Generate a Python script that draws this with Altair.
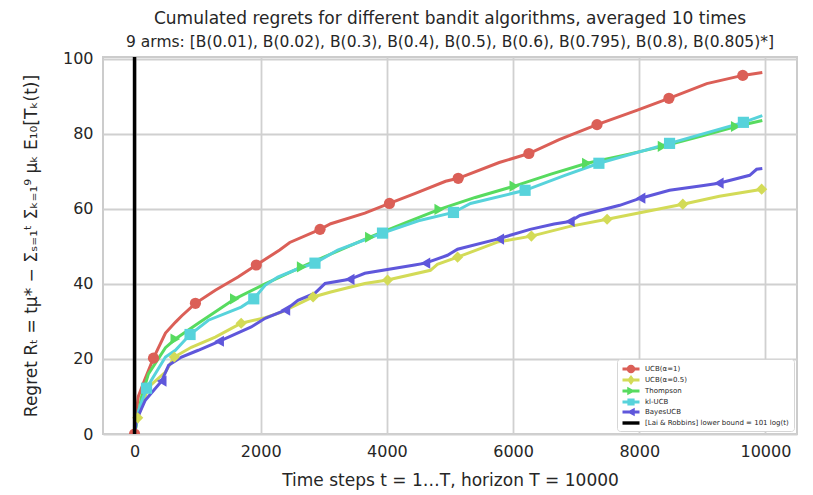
import altair as alt
import pandas as pd

# ---------------- data ----------------
names = ["UCB(α=1)", "UCB(α=0.5)", "Thompson", "kl-UCB", "BayesUCB",
         "[Lai & Robbins] lower bound = 101 log(t)"]
colors = ["#db5f57", "#d3db57", "#57db5f", "#57d3db", "#5f57db", "#000000"]

ucb1_t = [0, 20, 60, 150, 300, 490, 650, 750, 965, 1280, 1640, 1930, 2300, 2460, 2940, 3110,
          3650, 4040, 4440, 4930, 5130, 5780, 6250, 6730, 7330, 7960, 8470, 9070, 9640, 9950]
ucb1_y = [0, 5, 10, 14, 20.2, 26.9, 29.8, 31.5, 34.8, 38.3, 41.8, 45, 49, 51, 54.5, 56,
          58.8, 61.4, 64, 67.3, 68.1, 72.3, 74.7, 78.4, 82.4, 86.2, 89.4, 93.3, 95.5, 96.3]
ucb1_mt = [0, 300, 965, 1930, 2940, 4040, 5130, 6250, 7330, 8470, 9640]
ucb1_my = [0, 20.2, 34.8, 45, 54.5, 61.4, 68.1, 74.7, 82.4, 89.4, 95.5]

ucb05_t = [0, 50, 220, 490, 630, 900, 1280, 1690, 2070, 2320, 2830, 3110, 3650, 4010, 4690,
           4800, 5120, 5750, 6290, 6900, 7490, 8070, 8690, 9270, 9950]
ucb05_y = [0, 4.3, 12.5, 16.5, 20.5, 23.1, 25.8, 29.5, 31, 32.4, 36.5, 37.8, 40.1, 41, 43.6,
           45.2, 47.1, 51.1, 52.7, 55.3, 57.2, 59.1, 61.2, 63.3, 65.2]
ucb05_mt = [50, 630, 1690, 2830, 4010, 5120, 6290, 7490, 8690, 9940]
ucb05_my = [4.3, 20.5, 29.5, 36.5, 41, 47.1, 52.7, 57.2, 61.2, 65.2]

ts_t = [0, 110, 220, 490, 647, 1010, 1590, 2070, 2650, 3200, 3730, 4300, 4830, 5400, 6020,
        6600, 7170, 7800, 8370, 9000, 9530, 9950]
ts_y = [0, 9.8, 16, 23, 25.3, 29.5, 36, 40, 44.5, 48.6, 52.4, 56.3, 59.8, 63, 66,
        69.2, 72.1, 74.4, 76.6, 79.4, 81.9, 83.5]
ts_mt = [647, 1590, 2650, 3730, 4830, 6020, 7170, 8370, 9530]
ts_my = [25.3, 36, 44.5, 52.4, 59.8, 66, 72.1, 76.6, 81.9]

kl_t = [0, 60, 190, 490, 647, 880, 1170, 1690, 1890, 2070, 2270, 2590, 2860, 3220, 3930,
        4500, 5055, 5325, 6190, 6810, 7360, 8480, 9650, 9950]
kl_y = [0, 6, 12.2, 20.5, 22.3, 26.5, 30.3, 33.8, 36, 39.6, 41.8, 44, 45.5, 49, 53.5,
        56.8, 59, 61.4, 64.9, 68.8, 72.1, 77.4, 83, 84.8]
kl_mt = [190, 880, 1890, 2860, 3930, 5055, 6190, 7360, 8480, 9650]
kl_my = [12.2, 26.5, 36, 45.5, 53.5, 59, 64.9, 72.1, 77.4, 83]

bayes_t = [0, 30, 170, 430, 540, 745, 1010, 1340, 1850, 2070, 2390, 2590, 2860, 3020, 3410,
           3650, 4440, 4610, 4960, 5120, 5750, 6270, 6650, 6900, 7060, 7690, 8020, 8480,
           9020, 9260, 9750, 9860, 9950]
bayes_y = [0, 3.7, 9, 14.1, 18.3, 20.5, 22.3, 24.7, 28.5, 30.8, 33, 35.6, 37.5, 40.1, 41.2,
           42.8, 45, 45.5, 47.6, 49.2, 51.9, 54.5, 55.9, 56.6, 58.2, 60.9, 62.8, 64.9,
           66.2, 66.8, 68.9, 70.5, 70.7]
bayes_mt = [430, 1340, 2390, 3410, 4610, 5780, 6900, 8020, 9260]
bayes_my = [14.1, 24.7, 33, 41.2, 45.5, 51.9, 56.6, 62.8, 66.8]

lower_bound_t = [0]

x_ticks = [0, 2000, 4000, 6000, 8000, 10000]
y_ticks = [0, 20, 40, 60, 80, 100]

# ---------------- tables ----------------
series = [(ucb1_t, ucb1_y, ucb1_mt, ucb1_my), (ucb05_t, ucb05_y, ucb05_mt, ucb05_my),
          (ts_t, ts_y, ts_mt, ts_my), (kl_t, kl_y, kl_mt, kl_my),
          (bayes_t, bayes_y, bayes_mt, bayes_my)]
line_rows, mark_rows = [], []
for i, (t, y, mt, my) in enumerate(series):
    for a, b in zip(t, y):
        line_rows.append({"t": a, "y": b, "algo": names[i], "k": i})
    for a, b in zip(mt, my):
        mark_rows.append({"t": a, "y": b, "algo": names[i], "k": i})
lines_df = pd.DataFrame(line_rows)
marks_df = pd.DataFrame(mark_rows)
rule_df = pd.DataFrame({"t": lower_bound_t, "algo": [names[5]]})
legend_df = pd.DataFrame({"algo": names, "t": [None] * 6, "y": [None] * 6})

xs = alt.Scale(domain=[-500, 10500], nice=False, zero=False)
ys = alt.Scale(domain=[0, 100.4], nice=False)
col = alt.Scale(domain=names, range=colors)

X = alt.X("t:Q", scale=xs, axis=alt.Axis(values=x_ticks, format="d",
                                         title="Time steps t = 1…T, horizon T = 10000",
                                         labelPadding=9, titlePadding=13))
Y = alt.Y("y:Q", scale=ys, axis=alt.Axis(values=y_ticks, format="d",
                                         title="Regret Rₜ = tμ* − Σₛ₌₁ᵗ Σₖ₌₁⁹ μₖ E₁₀[Tₖ(t)]",
                                         labelPadding=10, titlePadding=22))

lines = alt.Chart(lines_df).mark_line(strokeWidth=3, clip=True).encode(
    x=X, y=Y, color=alt.Color("algo:N", scale=col, legend=None), detail="k:N")

marker_shapes = ["circle", "diamond", "triangle-right", "square", "triangle-left"]
marks = alt.Chart(marks_df).mark_point(filled=True, size=125, opacity=1, clip=True).encode(
    x=X, y=Y, color=alt.Color("algo:N", scale=col, legend=None),
    shape=alt.Shape("algo:N", scale=alt.Scale(domain=names[:5], range=marker_shapes), legend=None))

rule = alt.Chart(rule_df).mark_rule(color="black", strokeWidth=3.5).encode(x=X)

L = "M-1.7,-0.29H1.7V0.29H-1.7Z"
legend_shapes = [
    L + "M-0.85,0A0.85,0.85,0,1,1,0.85,0A0.85,0.85,0,1,1,-0.85,0Z",
    L + "M0,-1L0.75,0L0,1L-0.75,0Z",
    L + "M-0.75,-0.85L0.85,0L-0.75,0.85Z",
    L + "M-0.72,-0.72H0.72V0.72H-0.72Z",
    L + "M0.75,0.85L-0.85,0L0.75,-0.85Z",
    "M-1.7,-0.34H1.7V0.34H-1.7Z",
]
leg = alt.Legend(title=None, orient="bottom-right", offset=3, fillColor="white",
                 strokeColor="#d6d6d6", cornerRadius=3, padding=5, labelFontSize=7,
                 labelFont="DejaVu Sans", labelColor="#262626", symbolSize=100,
                 symbolStrokeWidth=0, rowPadding=1, labelOffset=9, symbolOffset=4)
legend_layer = alt.Chart(legend_df).mark_point(filled=True, opacity=1).encode(
    x=X, y=Y,
    color=alt.Color("algo:N", scale=col, legend=leg),
    shape=alt.Shape("algo:N", scale=alt.Scale(domain=names, range=legend_shapes), legend=leg))

chart = alt.layer(lines, marks, rule, legend_layer).resolve_scale(
    color="independent", shape="independent"
).properties(
    width=694, height=377,
    background="white",
    padding={"left": 103, "top": 57, "right": 16, "bottom": 61},
    autosize=alt.AutoSizeParams(type="none"),
    title=alt.TitleParams(
        text="Cumulated regrets for different bandit algorithms, averaged 10 times",
        subtitle="9 arms: [B(0.01), B(0.02), B(0.3), B(0.4), B(0.5), B(0.6), B(0.795), B(0.8), B(0.805)*]",
        fontSize=17, fontWeight="normal", font="DejaVu Sans", color="#262626",
        subtitleFontSize=15.5, subtitleFont="DejaVu Sans", subtitleColor="#262626",
        subtitlePadding=7, offset=-1, anchor="middle"),
).configure_view(
    stroke="#cccccc", strokeWidth=2
).configure_axis(
    grid=True, gridColor="#d0d0d0", gridWidth=1.8, domain=False, ticks=False,
    labelFont="DejaVu Sans", labelFontSize=16, labelColor="#262626",
    titleFont="DejaVu Sans", titleFontSize=17, titleFontWeight="normal", titleColor="#262626"
)

chart.save("out.html", embed_options={"renderer": "svg", "actions": False})
